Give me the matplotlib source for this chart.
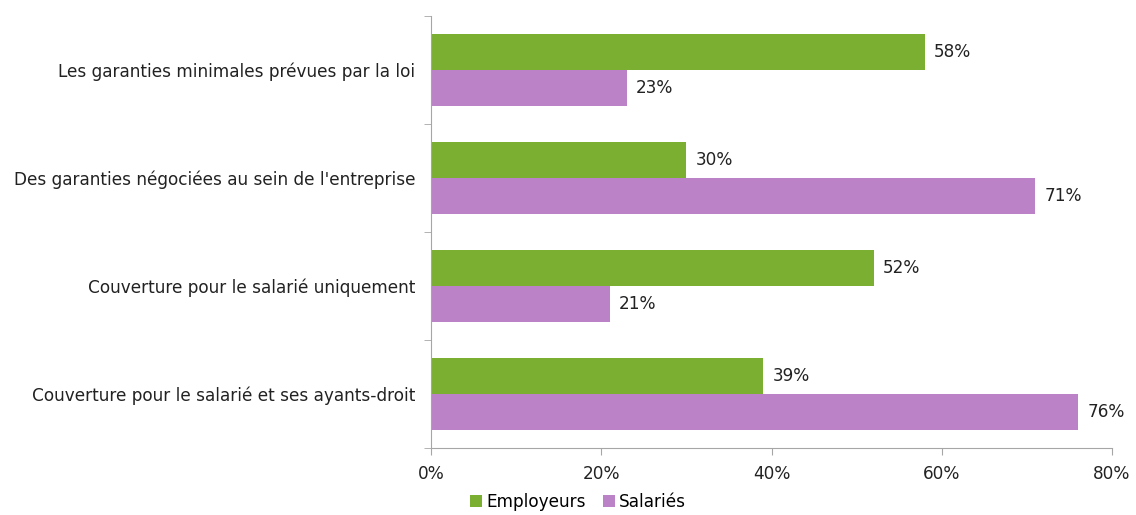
import matplotlib.pyplot as plt
import numpy as np

categories = ["Les garanties minimales prévues par la loi",
              "Des garanties négociées au sein de l'entreprise",
              "Couverture pour le salarié uniquement",
              "Couverture pour le salarié et ses ayants-droit"]
employeurs = [58, 30, 52, 39]
salaries = [23, 71, 21, 76]
xticks = [0, 20, 40, 60, 80]

green = '#7AAF31'
purple = '#BC82C8'
grey = '#A6A6A6'
fs = 12.2

fig = plt.figure(figsize=(11.36, 5.15), dpi=100)
ax = fig.add_axes([0.3794, 0.130, 0.5995, 0.839])

y = np.arange(len(categories))
h = 0.33
ax.barh(y - h / 2, employeurs, height=h, color=green, label='Employeurs')
ax.barh(y + h / 2, salaries, height=h, color=purple, label='Salariés')

for i in range(len(categories)):
    ax.text(employeurs[i] + 1.1, y[i] - h / 2, f"{employeurs[i]}%", va='center', ha='left',
            fontsize=fs, color='#222222')
    ax.text(salaries[i] + 1.1, y[i] + h / 2, f"{salaries[i]}%", va='center', ha='left',
            fontsize=fs, color='#222222')

ax.set_ylim(len(categories) - 0.5, -0.5)
ax.set_xlim(0, 80)
ax.set_yticks(y)
ax.set_yticklabels(categories, fontsize=fs, color='#222222')
ax.set_yticks(np.arange(len(categories) + 1) - 0.5, minor=True)
ax.tick_params(axis='y', which='major', length=0, pad=11.5)
ax.tick_params(axis='y', which='minor', length=5, color=grey, direction='out')
ax.set_xticks(xticks)
ax.set_xticklabels([f"{t}%" for t in xticks], fontsize=fs, color='#222222')
ax.tick_params(axis='x', length=5, color=grey, pad=7)

for s in ['top', 'right']:
    ax.spines[s].set_visible(False)
for s in ['left', 'bottom']:
    ax.spines[s].set_color(grey)

fig.legend(loc='lower center', bbox_to_anchor=(0.509, -0.022), ncol=2, frameon=False,
           fontsize=fs, handlelength=0.7, handleheight=0.7, handletextpad=0.25, columnspacing=1.0)

fig.savefig('out.png', dpi=100)
